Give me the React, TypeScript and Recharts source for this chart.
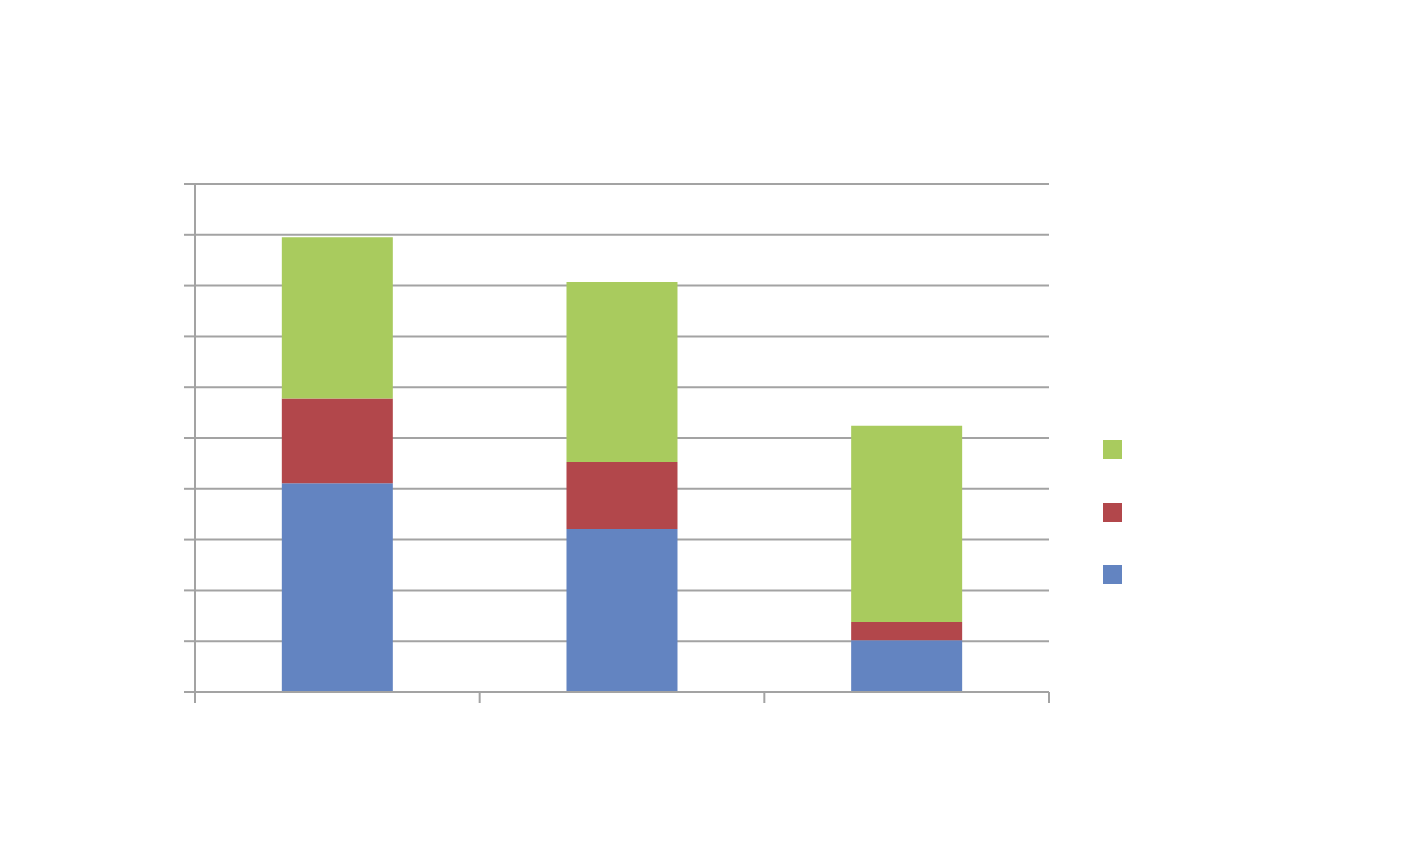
import React from 'react';
import { BarChart, Bar, XAxis, YAxis, CartesianGrid, Legend } from 'recharts';

const categoryPositions = [0.5, 1.5, 2.5];
const seriesBlue = [4.11, 3.21, 1.02];
const seriesRed = [1.67, 1.32, 0.36];
const seriesGreen = [3.17, 3.54, 3.86];
const yTicks = [0, 1, 2, 3, 4, 5, 6, 7, 8, 9, 10];
const boundaryTicks = [0, 1, 2, 3];

const COLORS = { blue: '#6384C1', red: '#B2474B', green: '#A9CB5E' };
const GRID = '#A3A3A3';

const data = categoryPositions.map((x, i) => ({
  x,
  blue: seriesBlue[i],
  red: seriesRed[i],
  green: seriesGreen[i],
}));

const LegendContent = () => (
  <div style={{ display: 'flex', flexDirection: 'column' }}>
    {[COLORS.green, COLORS.red, COLORS.blue].map((c, i) => (
      <div
        key={i}
        style={{ width: 19, height: 19, background: c, marginBottom: i < 2 ? 43.5 : 0 }}
      />
    ))}
  </div>
);

export default function App() {
  return (
    <div style={{ width: 1387, height: 840, position: 'relative' }}>
      <BarChart
        width={1387}
        height={840}
        data={data}
        barCategoryGap="30.5%"
        margin={{ top: 176, right: 327, bottom: 128, left: 176 }}
      >
        <CartesianGrid vertical={false} stroke={GRID} strokeWidth={2} />
        <XAxis
          dataKey="x"
          type="number"
          domain={[0, 3]}
          ticks={boundaryTicks}
          height={28}
          stroke={GRID}
          strokeWidth={2}
          tickSize={11}
          tickFormatter={() => ''}
        />
        <YAxis
          width={11}
          domain={[0, 10]}
          ticks={yTicks}
          stroke={GRID}
          strokeWidth={2}
          tickSize={11}
          tickFormatter={() => ''}
        />
        <Legend
          layout="horizontal"
          verticalAlign="middle"
          align="right"
          content={<LegendContent />}
          wrapperStyle={{ position: 'absolute', left: 1095, top: 432, width: 19 }}
        />
        <Bar dataKey="blue" stackId="s" fill={COLORS.blue} isAnimationActive={false} />
        <Bar dataKey="red" stackId="s" fill={COLORS.red} isAnimationActive={false} />
        <Bar dataKey="green" stackId="s" fill={COLORS.green} isAnimationActive={false} />
      </BarChart>
    </div>
  );
}
